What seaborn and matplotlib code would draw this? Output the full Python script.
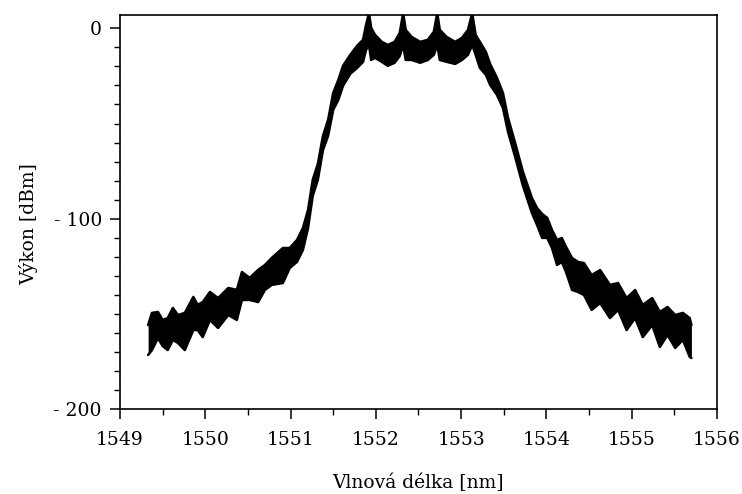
import numpy as np
import pandas as pd
import matplotlib.pyplot as plt
from matplotlib.ticker import MultipleLocator, FixedLocator
import seaborn as sns

# Spectrum band: wavelength [nm], upper and lower edge [dBm]
wavelength = [1549.33, 1549.375, 1549.445, 1549.50, 1549.56, 1549.62, 1549.68, 1549.76,
              1549.86, 1549.91, 1549.97, 1550.055, 1550.15, 1550.27, 1550.37, 1550.43,
              1550.52, 1550.62, 1550.70, 1550.78, 1550.91, 1550.99, 1551.075, 1551.145,
              1551.205, 1551.26, 1551.32, 1551.38, 1551.44, 1551.50, 1551.56, 1551.615,
              1551.70, 1551.78, 1551.85, 1551.885, 1551.92, 1551.945, 1551.99, 1552.07,
              1552.14, 1552.22, 1552.28, 1552.32, 1552.35, 1552.42, 1552.52, 1552.61,
              1552.68, 1552.72, 1552.75, 1552.83, 1552.93, 1553.01, 1553.08, 1553.13,
              1553.17, 1553.22, 1553.29, 1553.34, 1553.42, 1553.49, 1553.55, 1553.63,
              1553.725, 1553.83, 1553.89, 1553.95, 1554.01, 1554.065, 1554.125, 1554.18,
              1554.23, 1554.30, 1554.37, 1554.44, 1554.53, 1554.63, 1554.745, 1554.84,
              1554.94, 1555.04, 1555.13, 1555.24, 1555.33, 1555.42, 1555.51, 1555.60,
              1555.68, 1555.70]
upper = [-155.9, -149.5, -149.0, -153.2, -152.2, -146.9, -150.6, -149.5,
         -141.1, -145.3, -143.8, -138.5, -141.7, -136.4, -137.4, -128.0,
         -131.1, -126.9, -124.3, -120.6, -115.4, -115.4, -111.2, -104.9,
         -95.4, -79.6, -71.2, -56.5, -48.1, -33.9, -27.1, -19.7,
         -13.9, -9.2, -6.0, 1.8, 8.0, 0.3, -3.4, -7.1,
         -8.7, -7.1, -2.4, 8.0, -0.8, -4.5, -7.1, -6.0,
         -1.8, 8.0, -0.8, -4.5, -7.1, -5.0, -0.8, 8.0,
         -3.4, -7.1, -12.4, -18.7, -26.0, -33.9, -47.0, -59.7,
         -75.4, -89.1, -94.4, -97.5, -99.6, -105.9, -111.2, -110.1,
         -114.8, -120.6, -122.7, -123.3, -129.6, -127.0, -134.8, -133.8,
         -141.7, -137.5, -145.3, -141.7, -149.0, -146.4, -150.6, -149.5,
         -152.2, -155.9]
lower = [-171.6, -169.0, -162.7, -166.9, -169.0, -163.7, -165.3, -169.0,
         -158.5, -158.5, -162.2, -153.2, -157.4, -150.6, -153.2, -142.7,
         -142.7, -143.8, -137.4, -134.8, -133.8, -125.9, -122.7, -116.4,
         -104.9, -88.0, -79.6, -63.9, -56.5, -42.8, -37.6, -30.2,
         -23.9, -20.8, -17.6, -11.3, -8.7, -16.6, -15.5, -17.6,
         -19.7, -18.1, -14.5, -8.7, -16.6, -16.6, -18.1, -16.6,
         -13.9, -8.7, -16.6, -17.6, -18.7, -16.6, -13.9, -8.7,
         -13.9, -20.8, -24.4, -29.7, -35.0, -41.8, -54.4, -67.0,
         -82.8, -97.0, -103.3, -110.1, -110.1, -115.4, -124.3, -122.7,
         -128.0, -137.4, -138.5, -140.1, -147.9, -144.3, -152.2, -147.9,
         -158.5, -152.2, -162.2, -155.9, -167.4, -161.1, -167.9, -163.7,
         -172.6, -173.2]

df = pd.DataFrame({'wl': wavelength, 'up': upper, 'lo': lower})

sns.set_style("ticks")
plt.rcParams['font.family'] = ['DejaVu Serif']
plt.rcParams['text.color'] = 'black'
plt.rcParams['axes.labelcolor'] = 'black'

fig = plt.figure(figsize=(7.42, 4.94), dpi=100)
ax = fig.add_axes([0.1617, 0.172, 0.8046, 0.7976])

ax.fill_between(df['wl'], df['lo'], df['up'], color='black', lw=0)
sns.lineplot(data=df, x='wl', y='up', color='black', lw=1.8, ax=ax)
sns.lineplot(data=df, x='wl', y='lo', color='black', lw=1.8, ax=ax)

ax.set_xlim(1549, 1556)
ax.set_ylim(-200, 7)
ax.set_xticks(range(1549, 1557))
ax.xaxis.set_minor_locator(MultipleLocator(0.5))
ax.yaxis.set_major_locator(FixedLocator([-200, -100, 0]))
ax.set_yticklabels(['- 200', '- 100', '0'])
ax.yaxis.set_minor_locator(MultipleLocator(10))

for s in ax.spines.values():
    s.set_visible(True)
    s.set_color('black')
    s.set_linewidth(1.2)

ax.tick_params(which='major', direction='out', length=7, width=1.1, labelsize=13.5, colors='black')
ax.tick_params(which='minor', direction='out', length=4.5, width=1.0, colors='black')
ax.tick_params(axis='x', which='major', pad=9)
ax.tick_params(axis='y', which='major', pad=6)

ax.set_xlabel("Vlnová délka [nm]", fontsize=13.5, color='black')
ax.set_ylabel("Výkon [dBm]", fontsize=13.5, color='black')
ax.xaxis.set_label_coords(0.5, -0.163)
ax.yaxis.set_label_coords(-0.137, 0.47)

fig.savefig('out.png', dpi=100)
